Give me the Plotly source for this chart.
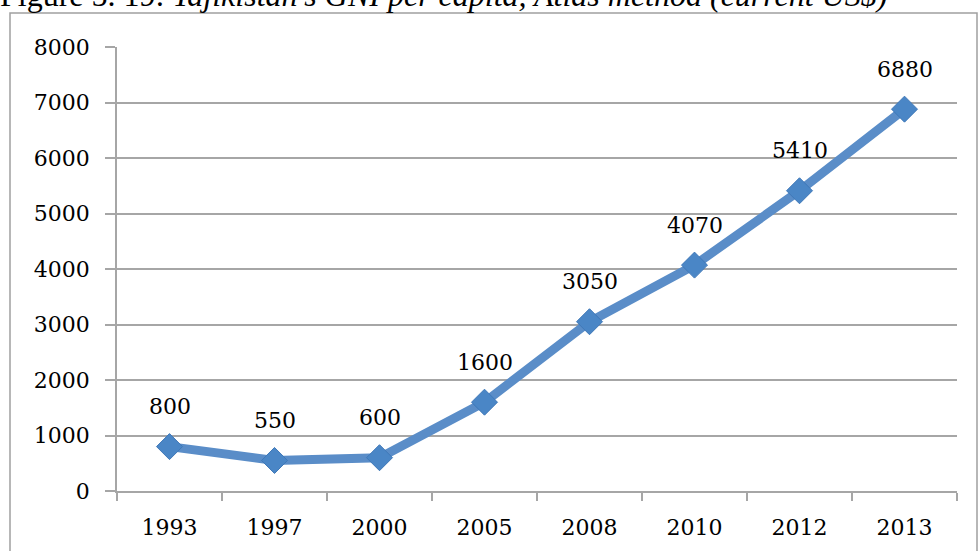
import plotly.graph_objects as go

years = ["1993", "1997", "2000", "2005", "2008", "2010", "2012", "2013"]
gni = [800, 550, 600, 1600, 3050, 4070, 5410, 6880]
y_ticks = [0, 1000, 2000, 3000, 4000, 5000, 6000, 7000, 8000]
title_lead = "Figure 5. 19: "
title_rest = "Tajikistan's GNI per capita, Atlas method (current US$)"

W, H = 978, 551
L, R, T, B = 117, 21, 47, 60
pw, ph = W - L - R, H - T - B

def px_x(x):
    return (x - L) / pw

def px_y(y):
    return (H - B - y) / ph

serif = "DejaVu Serif"
grid = "#A6A6A6"

fig = go.Figure()
fig.add_trace(go.Scatter(
    x=years, y=gni, mode="lines+markers",
    line=dict(color="#5A8DC8", width=9),
    marker=dict(symbol="diamond", size=20, color="#4A86C6",
                line=dict(color="#3F78B8", width=1)),
    hoverinfo="skip", showlegend=False,
))

for i, v in enumerate(gni):
    fig.add_annotation(x=i, y=v, text=str(v), showarrow=False,
                       yshift=40, font=dict(family=serif, size=22, color="black"))

fig.add_annotation(xref="paper", yref="paper", x=px_x(-2), y=px_y(-5),
                   xanchor="left", yanchor="middle", showarrow=False,
                   text=title_lead + "<i>" + title_rest + "</i>",
                   font=dict(family="Liberation Serif", size=32, color="black"))

fig.add_shape(type="rect", xref="paper", yref="paper",
              x0=px_x(10), x1=px_x(977), y0=px_y(13), y1=px_y(570),
              line=dict(color="#A0A0A0", width=1.5), layer="below")

fig.update_layout(
    width=W, height=H,
    margin=dict(l=L, r=R, t=T, b=B),
    paper_bgcolor="white", plot_bgcolor="white",
    font=dict(family=serif, size=22, color="black"),
    xaxis=dict(type="category", tickson="boundaries", ticks="outside",
               ticklen=8, tickcolor=grid, tickwidth=1.5,
               showline=True, linecolor=grid, linewidth=1.5,
               showgrid=False, ticklabelstandoff=16,
               tickfont=dict(family=serif, size=22, color="black"),
               range=[-0.5, 7.5], fixedrange=True),
    yaxis=dict(range=[0, 8000], tickvals=y_ticks, ticks="outside",
               ticklen=10, tickcolor=grid, tickwidth=1.5,
               showline=True, linecolor=grid, linewidth=1.5,
               showgrid=True, gridcolor=grid, gridwidth=1.5,
               zeroline=False, ticklabelstandoff=11,
               tickfont=dict(family=serif, size=22, color="black"),
               fixedrange=True),
)

fig.write_html("out.html")
